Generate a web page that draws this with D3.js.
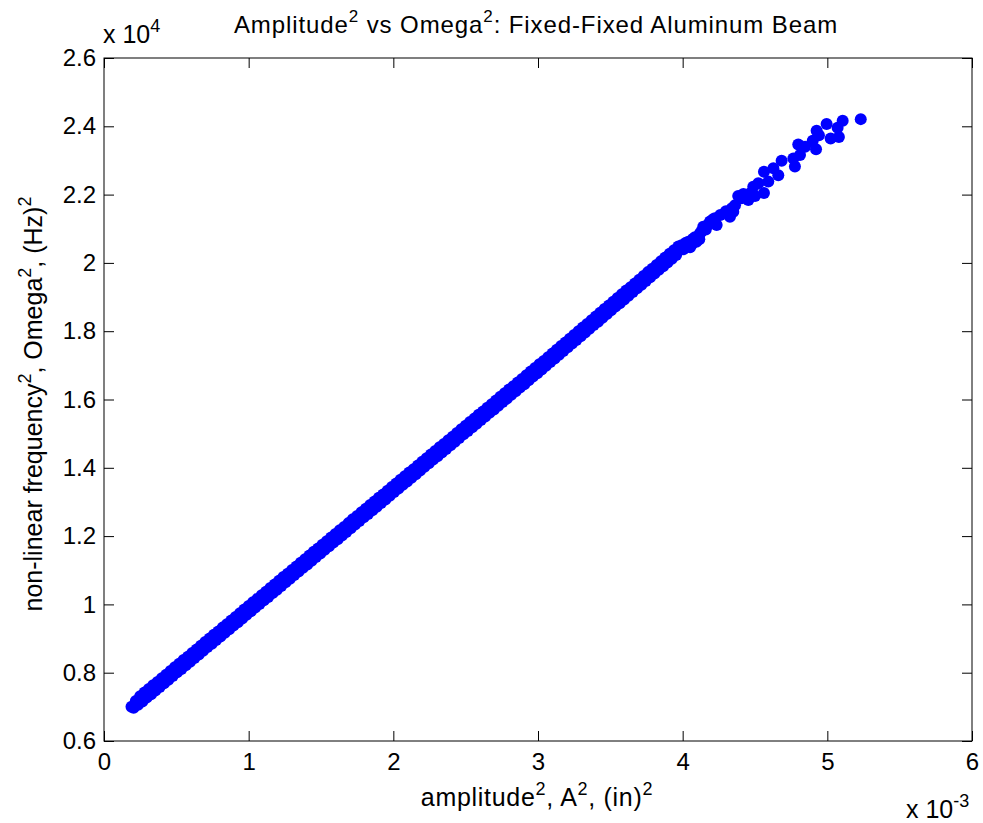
<!DOCTYPE html>
<html lang="en">
<head>
<meta charset="utf-8">
<title>Amplitude vs Omega</title>
<script src="https://d3js.org/d3.v7.min.js"></script>
<style>
  body { margin: 0; background: #fff; }
  text { font-family: "Liberation Sans", Arial, sans-serif; fill: #000; }
  .axis text { font-size: 24px; }
  .axis line { stroke: #000; }
  .axis path { display: none; }
</style>
</head>
<body>
<script>
// amplitude^2 in units of 1e-3 (in^2), omega^2 in units of 1e4 (Hz^2)
// upper edge of the dense band
const ampA = [
  0.19, 0.22, 0.25, 0.28, 0.31, 0.34, 0.37, 0.40, 0.43, 0.46, 0.49, 0.52, 0.55, 0.58, 0.61, 0.64,
  0.67, 0.70, 0.73, 0.76, 0.79, 0.82, 0.85, 0.88, 0.91, 0.94, 0.97, 1.00, 1.03, 1.06, 1.09, 1.12,
  1.15, 1.18, 1.21, 1.24, 1.27, 1.30, 1.33, 1.36, 1.39, 1.42, 1.45, 1.48, 1.51, 1.54, 1.57, 1.60,
  1.63, 1.66, 1.69, 1.72, 1.75, 1.78, 1.81, 1.84, 1.87, 1.90, 1.93, 1.96, 1.99, 2.02, 2.05, 2.08,
  2.11, 2.14, 2.17, 2.20, 2.23, 2.26, 2.29, 2.32, 2.35, 2.38, 2.41, 2.44, 2.47, 2.50, 2.53, 2.56,
  2.59, 2.62, 2.65, 2.68, 2.71, 2.74, 2.77, 2.80, 2.83, 2.86, 2.89, 2.92, 2.95, 2.98, 3.01, 3.04,
  3.07, 3.10, 3.13, 3.16, 3.19, 3.22, 3.25, 3.28, 3.31, 3.34, 3.37, 3.40, 3.43, 3.46, 3.49, 3.52,
  3.55, 3.58, 3.61, 3.64, 3.67, 3.70, 3.73, 3.76, 3.79, 3.82, 3.85, 3.88, 3.91, 3.94, 3.97
];
const omegaA = [
  0.700, 0.717, 0.731, 0.742, 0.752, 0.763, 0.773, 0.784, 0.794, 0.805, 0.816, 0.826, 0.837, 0.847, 0.858, 0.868,
  0.879, 0.890, 0.900, 0.911, 0.921, 0.932, 0.942, 0.953, 0.963, 0.974, 0.985, 0.995, 1.006, 1.016, 1.027, 1.037,
  1.048, 1.058, 1.069, 1.080, 1.090, 1.101, 1.111, 1.122, 1.132, 1.143, 1.154, 1.164, 1.175, 1.185, 1.196, 1.206,
  1.217, 1.227, 1.238, 1.249, 1.259, 1.270, 1.280, 1.291, 1.301, 1.312, 1.322, 1.333, 1.344, 1.354, 1.365, 1.375,
  1.386, 1.396, 1.407, 1.418, 1.428, 1.439, 1.449, 1.460, 1.470, 1.481, 1.491, 1.502, 1.513, 1.523, 1.534, 1.544,
  1.555, 1.565, 1.576, 1.586, 1.597, 1.608, 1.618, 1.629, 1.639, 1.650, 1.660, 1.671, 1.682, 1.692, 1.703, 1.713,
  1.724, 1.735, 1.746, 1.757, 1.767, 1.778, 1.789, 1.800, 1.811, 1.821, 1.832, 1.843, 1.854, 1.865, 1.875, 1.886,
  1.897, 1.908, 1.919, 1.929, 1.940, 1.951, 1.962, 1.973, 1.983, 1.994, 2.005, 2.016, 2.027, 2.037, 2.048
];
// lower edge of the dense band
const ampB = [
  0.205, 0.235, 0.265, 0.295, 0.325, 0.355, 0.385, 0.415, 0.445, 0.475, 0.505, 0.535, 0.565, 0.595, 0.625, 0.655,
  0.685, 0.715, 0.745, 0.775, 0.805, 0.835, 0.865, 0.895, 0.925, 0.955, 0.985, 1.015, 1.045, 1.075, 1.105, 1.135,
  1.165, 1.195, 1.225, 1.255, 1.285, 1.315, 1.345, 1.375, 1.405, 1.435, 1.465, 1.495, 1.525, 1.555, 1.585, 1.615,
  1.645, 1.675, 1.705, 1.735, 1.765, 1.795, 1.825, 1.855, 1.885, 1.915, 1.945, 1.975, 2.005, 2.035, 2.065, 2.095,
  2.125, 2.155, 2.185, 2.215, 2.245, 2.275, 2.305, 2.335, 2.365, 2.395, 2.425, 2.455, 2.485, 2.515, 2.545, 2.575,
  2.605, 2.635, 2.665, 2.695, 2.725, 2.755, 2.785, 2.815, 2.845, 2.875, 2.905, 2.935, 2.965, 2.995, 3.025, 3.055,
  3.085, 3.115, 3.145, 3.175, 3.205, 3.235, 3.265, 3.295, 3.325, 3.355, 3.385, 3.415, 3.445, 3.475, 3.505, 3.535,
  3.565, 3.595, 3.625, 3.655, 3.685, 3.715, 3.745, 3.775, 3.805, 3.835, 3.865, 3.895, 3.925, 3.955
];
const omegaB = [
  0.697, 0.706, 0.716, 0.727, 0.737, 0.748, 0.758, 0.769, 0.779, 0.790, 0.801, 0.811, 0.822, 0.832, 0.843, 0.853,
  0.864, 0.875, 0.885, 0.896, 0.906, 0.917, 0.927, 0.938, 0.948, 0.959, 0.970, 0.980, 0.991, 1.001, 1.012, 1.022,
  1.033, 1.043, 1.054, 1.065, 1.075, 1.086, 1.096, 1.107, 1.117, 1.128, 1.139, 1.149, 1.160, 1.170, 1.181, 1.191,
  1.202, 1.212, 1.223, 1.234, 1.244, 1.255, 1.265, 1.276, 1.286, 1.297, 1.307, 1.318, 1.329, 1.339, 1.350, 1.360,
  1.371, 1.381, 1.392, 1.403, 1.413, 1.424, 1.434, 1.445, 1.455, 1.466, 1.476, 1.487, 1.498, 1.508, 1.519, 1.529,
  1.540, 1.550, 1.561, 1.571, 1.582, 1.593, 1.603, 1.614, 1.624, 1.635, 1.645, 1.656, 1.667, 1.677, 1.688, 1.699,
  1.710, 1.720, 1.731, 1.742, 1.753, 1.764, 1.774, 1.785, 1.796, 1.807, 1.818, 1.828, 1.839, 1.850, 1.861, 1.872,
  1.882, 1.893, 1.904, 1.915, 1.926, 1.936, 1.947, 1.958, 1.969, 1.980, 1.990, 2.001, 2.012, 2.023
];
// scattered points at the high-amplitude end
const ampTop = [
  3.993, 4.005, 4.02, 4.039, 4.051, 4.065, 4.07, 4.085, 4.095, 4.115, 4.120, 4.13, 4.142, 4.16,
  4.17, 4.189, 4.205, 4.21, 4.223, 4.235, 4.26, 4.299, 4.327, 4.34, 4.35, 4.362, 4.384, 4.408,
  4.42, 4.454, 4.47, 4.488, 4.500, 4.523, 4.562, 4.562, 4.592, 4.627, 4.661, 4.684,
  4.765, 4.776, 4.799, 4.811, 4.846, 4.899, 4.922, 4.926, 4.942, 4.995, 5.023, 5.071, 5.080, 5.106,
  5.231
];
const omegaTop = [
  2.052, 2.040, 2.058, 2.062, 2.046, 2.055, 2.070, 2.075, 2.062, 2.069, 2.087, 2.092, 2.106, 2.098,
  2.110, 2.121, 2.118, 2.128, 2.131, 2.111, 2.140, 2.151, 2.135, 2.160, 2.150, 2.169, 2.196, 2.189,
  2.202, 2.184, 2.205, 2.223, 2.196, 2.233, 2.205, 2.267, 2.238, 2.277, 2.257, 2.299,
  2.306, 2.282, 2.347, 2.316, 2.340, 2.358, 2.333, 2.387, 2.374, 2.407, 2.364, 2.396, 2.369, 2.416,
  2.421
];
const xTicks = [0, 1, 2, 3, 4, 5, 6];
const yTicks = [0.6, 0.8, 1.0, 1.2, 1.4, 1.6, 1.8, 2.0, 2.2, 2.4, 2.6];

const W = 983, H = 823;
const plotLeft = 104, plotTop = 58, plotRight = 972, plotBottom = 741;

const svg = d3.select("body").append("svg")
  .attr("width", W)
  .attr("height", H);

const x = d3.scaleLinear().domain([0, 6]).range([plotLeft, plotRight]);
const y = d3.scaleLinear().domain([0.6, 2.6]).range([plotBottom, plotTop]);

// box
svg.append("rect")
  .attr("x", plotLeft).attr("y", plotTop)
  .attr("width", plotRight - plotLeft).attr("height", plotBottom - plotTop)
  .attr("fill", "none").attr("stroke", "#000").attr("stroke-width", 1);

// axes, ticks pointing inward
svg.append("g").attr("class", "axis")
  .attr("transform", "translate(0," + plotBottom + ")")
  .call(d3.axisBottom(x).tickValues(xTicks).tickSizeInner(-10).tickSizeOuter(0).tickPadding(12).tickFormat(d3.format("d")));

svg.append("g").attr("class", "axis")
  .attr("transform", "translate(0," + plotTop + ")")
  .call(d3.axisTop(x).tickValues(xTicks).tickSizeInner(-10).tickSizeOuter(0).tickFormat(""));

svg.append("g").attr("class", "axis")
  .attr("transform", "translate(" + plotLeft + ",0)")
  .call(d3.axisLeft(y).tickValues(yTicks).tickSizeInner(-10).tickSizeOuter(0).tickPadding(8).tickFormat(d => d3.format("~g")(d)));

svg.append("g").attr("class", "axis")
  .attr("transform", "translate(" + plotRight + ",0)")
  .call(d3.axisRight(y).tickValues(yTicks).tickSizeInner(-10).tickSizeOuter(0).tickFormat(""));

// points
const pts = []
  .concat(ampA.map((a, i) => [a, omegaA[i]]))
  .concat(ampB.map((a, i) => [a, omegaB[i]]))
  .concat(ampTop.map((a, i) => [a, omegaTop[i]]));

svg.append("g")
  .selectAll("circle")
  .data(pts)
  .join("circle")
  .attr("cx", d => x(d[0]))
  .attr("cy", d => y(d[1]))
  .attr("r", 6)
  .attr("fill", "#0000ff");

// text with superscripts: parts = [[text, isSup], ...]
function supText(sel, parts, size) {
  let raised = false;
  const s = Math.round(size * 0.72);
  parts.forEach(p => {
    const t = sel.append("tspan").text(p[0]);
    if (p[1] && !raised) { t.attr("font-size", s).attr("dy", -size * 0.45); raised = true; }
    else if (p[1]) { t.attr("font-size", s); }
    else if (raised) { t.attr("dy", size * 0.45); raised = false; }
  });
}

// title
const title = svg.append("text")
  .attr("x", 536).attr("y", 33)
  .attr("text-anchor", "middle").attr("font-size", 24).attr("letter-spacing", 0.9);
supText(title, [["Amplitude", 0], ["2", 1], [" vs Omega", 0], ["2", 1], [": Fixed-Fixed Aluminum Beam", 0]], 24);

// x label
const xl = svg.append("text")
  .attr("x", 537).attr("y", 806)
  .attr("text-anchor", "middle").attr("font-size", 25).attr("letter-spacing", 0.7);
supText(xl, [["amplitude", 0], ["2", 1], [", A", 0], ["2", 1], [", (in)", 0], ["2", 1]], 25);

// y label
const yl = svg.append("text")
  .attr("transform", "translate(42,404) rotate(-90)")
  .attr("text-anchor", "middle").attr("font-size", 25);
supText(yl, [["non-linear frequency", 0], ["2", 1], [", Omega", 0], ["2", 1], [", (Hz)", 0], ["2", 1]], 25);

// exponent labels
const ex = svg.append("text")
  .attr("x", 103).attr("y", 43).attr("font-size", 25);
supText(ex, [["x 10", 0], ["4", 1]], 25);

const ex2 = svg.append("text")
  .attr("x", 906).attr("y", 818).attr("font-size", 25);
supText(ex2, [["x 10", 0], ["-3", 1]], 25);
</script>
</body>
</html>
